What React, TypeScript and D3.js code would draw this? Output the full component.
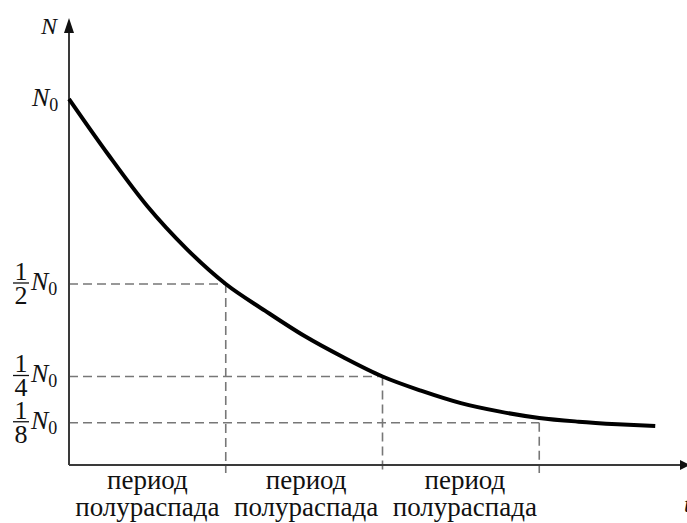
import React from "react";
import * as d3 from "d3";

// time in half-lives, N as fraction of N0
const tValues = [0, 0.25, 0.5, 0.75, 1.0, 1.25, 1.5, 1.75, 2.0, 2.25, 2.5, 2.75, 3.0, 3.25, 3.5, 3.74];
const nValues = [1.0, 0.85, 0.71, 0.595, 0.5, 0.428, 0.36, 0.302, 0.25, 0.211, 0.178, 0.155, 0.138, 0.128, 0.121, 0.116];

const halfLives = [1, 2, 3];
const levels = [0.5, 0.25, 0.125];
const denominators = ["2", "4", "8"];
const periodLine1 = "период";
const periodLine2 = "полураспада";

const W = 687;
const H = 523;
const axisFloor = 0.0108;
const FONT = "Liberation Serif";

export default function App() {
  const x = d3.scaleLinear().domain([0, 4]).range([69, 696]);
  const y = d3.scaleLinear().domain([axisFloor, 1]).range([465, 99]);

  const data = tValues.map((t, i) => ({ t, n: nValues[i] }));
  const line = d3
    .line<{ t: number; n: number }>()
    .x((d) => x(d.t))
    .y((d) => y(d.n))
    .curve(d3.curveMonotoneX);

  const x0 = x(0);
  const yAxis = y(axisFloor);
  const axisColor = "#3a3a3a";
  const dashColor = "#777";

  return (
    <svg width={W} height={H} style={{ position: "absolute", left: 0, top: 0, background: "#fff" }}>
      {/* dashed guides */}
      {halfLives.map((h, i) => (
        <g key={"g" + h}>
          <line
            x1={x0}
            x2={x(h)}
            y1={y(levels[i])}
            y2={y(levels[i])}
            stroke={dashColor}
            strokeWidth={1.6}
            strokeDasharray="9,5"
          />
          <line
            x1={x(h)}
            x2={x(h)}
            y1={y(levels[i])}
            y2={yAxis + 8}
            stroke={dashColor}
            strokeWidth={1.6}
            strokeDasharray="9,5"
          />
        </g>
      ))}

      {/* axes */}
      <line x1={x0} x2={x0} y1={yAxis} y2={30} stroke={axisColor} strokeWidth={2} />
      <path d={`M${x0},18 L${x0 - 5},33 L${x0 + 5},33 Z`} fill="#111" />
      <line x1={x0} x2={682} y1={yAxis} y2={yAxis} stroke={axisColor} strokeWidth={2} />
      <path d={`M690,${yAxis} L680,${yAxis - 5} L680,${yAxis + 5} Z`} fill="#111" />

      {/* curve */}
      <path d={line(data) || ""} fill="none" stroke="#000" strokeWidth={4} />

      {/* axis labels */}
      <text fontFamily={FONT} x={41} y={34} fontSize={24} fontStyle="italic" fill="#111">N</text>
      <text fontFamily={FONT} x={684} y={512} fontSize={24} fontStyle="italic" fill="#111">t</text>

      {/* N0 at top */}
      <text fontFamily={FONT} x={32} y={106} fontSize={26} fill="#111">
        <tspan fontStyle="italic">N</tspan>
        <tspan fontSize={18} dy={5}>0</tspan>
      </text>

      {/* fraction labels */}
      {levels.map((lv, i) => {
        const yb = y(lv) - 1;
        return (
          <g key={"f" + i}>
            <text fontFamily={FONT} x={21} y={yb - 3} fontSize={26} textAnchor="middle" fill="#111">1</text>
            <line x1={13} x2={29} y1={yb} y2={yb} stroke="#111" strokeWidth={1.3} />
            <text fontFamily={FONT} x={21} y={yb + 21} fontSize={26} textAnchor="middle" fill="#111">{denominators[i]}</text>
            <text fontFamily={FONT} x={31} y={yb + 7} fontSize={26} fill="#111">
              <tspan fontStyle="italic">N</tspan>
              <tspan fontSize={18} dy={5}>0</tspan>
            </text>
          </g>
        );
      })}

      {/* period labels */}
      {halfLives.map((h, i) => {
        const cx = (x(h - 1) + x(h)) / 2 + i * 2;
        return (
          <text fontFamily={FONT} key={"p" + i} x={cx} textAnchor="middle" fontSize={27} fill="#111">
            <tspan x={cx} y={489}>{periodLine1}</tspan>
            <tspan x={cx} y={516}>{periodLine2}</tspan>
          </text>
        );
      })}
    </svg>
  );
}
